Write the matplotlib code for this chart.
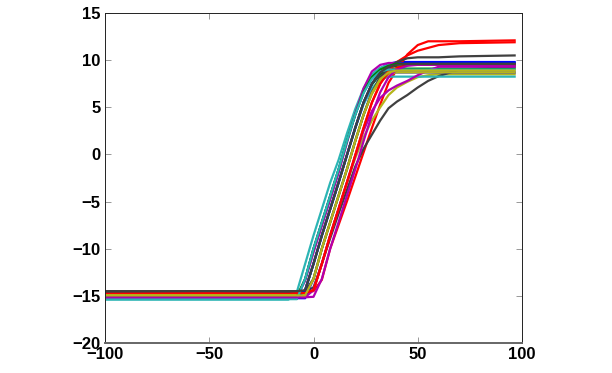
import matplotlib
matplotlib.use('Agg')
import matplotlib.pyplot as plt

# shared x grid
X = [-100, -50, -12, -8, -4, 0, 4, 8, 12, 16, 20, 24, 28, 32, 36, 40, 45, 50, 55, 60, 70, 97]

# matlab style colour order
COLOURS = ['#0000ff', '#008000', '#ff0000', '#2cb5b5', '#b000b0', '#b5b51a', '#404040']

b1 = [-15.3, -15.3, -15.3, -15.3, -13.2, -10.0, -7.2, -4.4, -1.6, 1.4, 4.2, 6.6, 8.2, 9.1, 9.6, 9.8, 9.8, 9.8, 9.8, 9.8, 9.8, 9.8]
g1 = [-15.1, -15.1, -15.1, -15.1, -14.4, -11.6, -8.6, -5.8, -3.0, -0.1, 2.8, 5.5, 7.5, 8.7, 9.2, 9.4, 9.5, 9.5, 9.5, 9.5, 9.5, 9.5]
r1 = [-14.6, -14.6, -14.6, -14.6, -14.6, -14.5, -13.3, -10.0, -7.5, -5.0, -2.4, 0.2, 2.8, 5.3, 7.6, 9.0, 10.6, 11.6, 12.0, 12.0, 12.0, 12.1]
c1 = [-15.4, -15.4, -15.4, -14.6, -11.6, -8.6, -5.8, -3.0, -0.6, 2.2, 4.8, 7.0, 8.5, 9.2, 9.5, 9.5, 9.5, 9.5, 9.5, 9.5, 9.5, 9.5]
m1 = [-15.1, -15.1, -15.1, -15.1, -13.4, -10.4, -7.6, -4.8, -2.0, 1.2, 4.3, 7.0, 8.8, 9.5, 9.7, 9.7, 9.6, 9.6, 9.6, 9.6, 9.6, 9.6]
y1 = [-14.9, -14.9, -14.9, -14.9, -14.9, -14.4, -11.6, -8.6, -5.8, -3.0, -0.4, 1.8, 3.6, 5.0, 6.3, 7.1, 7.7, 8.2, 8.4, 8.5, 8.5, 8.5]
k1 = [-14.55, -14.5, -14.55, -14.5, -14.55, -14.1, -11.6, -8.9, -6.3, -3.8, -1.3, 0.6, 2.1, 3.6, 4.9, 5.6, 6.3, 7.1, 7.8, 8.3, 9.0, 9.3]

b2 = [-15.25, -15.25, -15.25, -15.25, -15.25, -13.2, -10.0, -7.2, -4.4, -1.6, 1.4, 4.2, 6.6, 8.2, 8.7, 8.7, 8.7, 8.7, 8.7, 8.7, 8.7, 8.7]
g2 = [-15.0, -15.0, -15.0, -15.0, -14.4, -11.6, -8.6, -5.8, -3.0, -0.1, 2.8, 5.5, 7.4, 8.5, 9.0, 9.1, 9.1, 9.1, 9.1, 9.1, 9.1, 9.1]
r2 = [-14.65, -14.65, -14.65, -14.65, -14.65, -14.4, -11.6, -8.6, -5.8, -3.0, -0.1, 2.8, 5.5, 7.5, 8.9, 9.8, 10.5, 11.0, 11.3, 11.6, 11.8, 11.9]
c2 = [-15.2, -15.2, -15.2, -15.2, -14.4, -11.6, -8.6, -5.8, -3.0, -0.1, 2.8, 5.3, 7.0, 7.9, 8.25, 8.25, 8.25, 8.25, 8.25, 8.25, 8.25, 8.25]
m2 = [-15.15, -15.15, -15.15, -15.15, -15.15, -14.4, -11.6, -8.6, -5.8, -3.0, -0.2, 2.5, 4.6, 6.0, 6.8, 7.3, 7.8, 8.4, 8.9, 9.3, 9.3, 9.3]
y2 = [-14.85, -14.85, -14.85, -14.85, -14.85, -13.2, -10.0, -7.2, -4.4, -1.6, 1.4, 4.2, 6.4, 7.8, 8.5, 8.7, 8.7, 8.7, 8.7, 8.7, 8.7, 8.7]
k2 = [-14.5, -14.55, -14.5, -14.5, -14.5, -13.2, -10.0, -7.2, -4.4, -1.6, 1.4, 4.2, 6.6, 8.2, 9.2, 9.8, 10.2, 10.3, 10.3, 10.3, 10.4, 10.5]

b3 = [-15.3, -15.3, -15.3, -15.3, -14.4, -11.6, -8.6, -5.8, -3.0, -0.1, 2.8, 5.5, 7.5, 8.7, 9.3, 9.6, 9.7, 9.7, 9.7, 9.7, 9.7, 9.7]
g3 = [-15.05, -15.05, -15.05, -15.05, -13.2, -10.0, -7.2, -4.4, -1.6, 1.4, 4.2, 6.6, 8.2, 9.0, 9.4, 9.6, 9.6, 9.6, 9.6, 9.6, 9.6, 9.6]
r3 = [-14.7, -14.7, -14.7, -14.7, -14.7, -14.4, -11.6, -8.6, -5.8, -3.0, -0.1, 2.8, 5.5, 7.5, 8.7, 9.2, 9.5, 9.5, 9.5, 9.5, 9.5, 9.5]
c3 = [-15.35, -15.35, -15.35, -15.35, -13.2, -10.0, -7.2, -4.4, -1.6, 1.4, 4.2, 6.5, 8.0, 8.8, 9.0, 9.0, 9.0, 9.0, 9.0, 9.0, 9.0, 9.0]
m3 = [-15.15, -15.15, -15.15, -15.15, -15.15, -15.1, -13.2, -10.0, -7.2, -4.4, -1.6, 1.4, 4.2, 6.6, 8.2, 9.0, 9.4, 9.5, 9.5, 9.5, 9.5, 9.5]
y3 = [-14.95, -14.95, -14.95, -14.95, -14.95, -13.2, -10.0, -7.2, -4.4, -1.6, 1.4, 4.2, 6.5, 8.0, 8.7, 8.9, 8.9, 8.9, 8.9, 8.9, 8.9, 8.9]
k3 = [-14.55, -14.5, -14.55, -14.5, -14.4, -11.6, -8.6, -5.8, -3.0, -0.1, 2.8, 5.5, 7.5, 8.7, 9.3, 9.5, 9.6, 9.6, 9.6, 9.6, 9.6, 9.6]

CURVES = [b1, g1, r1, c1, m1, y1, k1,
          b2, g2, r2, c2, m2, y2, k2,
          b3, g3, r3, c3, m3, y3, k3]

XTICKS = [-100, -50, 0, 50, 100]
YTICKS = [-20, -15, -10, -5, 0, 5, 10, 15]

plt.rcParams['font.family'] = ['Liberation Sans', 'DejaVu Sans']

fig = plt.figure(figsize=(6.12, 3.73), dpi=100)
ax = fig.add_axes([105 / 612, 30 / 373, 417 / 612, 330 / 373])

for i, ys in enumerate(CURVES):
    ax.plot(X, ys, color=COLOURS[i % 7], lw=1.6, solid_capstyle='butt')

ax.set_xlim(-100, 100)
ax.set_ylim(-20, 15)
ax.set_xticks(XTICKS)
ax.set_yticks(YTICKS)
ax.tick_params(direction='in', length=4, width=0.6, color='#888888',
               top=True, right=True, labelsize=12, pad=3)
for lab in ax.get_xticklabels() + ax.get_yticklabels():
    lab.set_fontweight('bold')

for s in ['left', 'top', 'right']:
    ax.spines[s].set_linewidth(0.7)
    ax.spines[s].set_color('#222222')
ax.spines['bottom'].set_linewidth(1.4)
ax.spines['bottom'].set_color('#666666')

fig.savefig('out.png', dpi=100)
